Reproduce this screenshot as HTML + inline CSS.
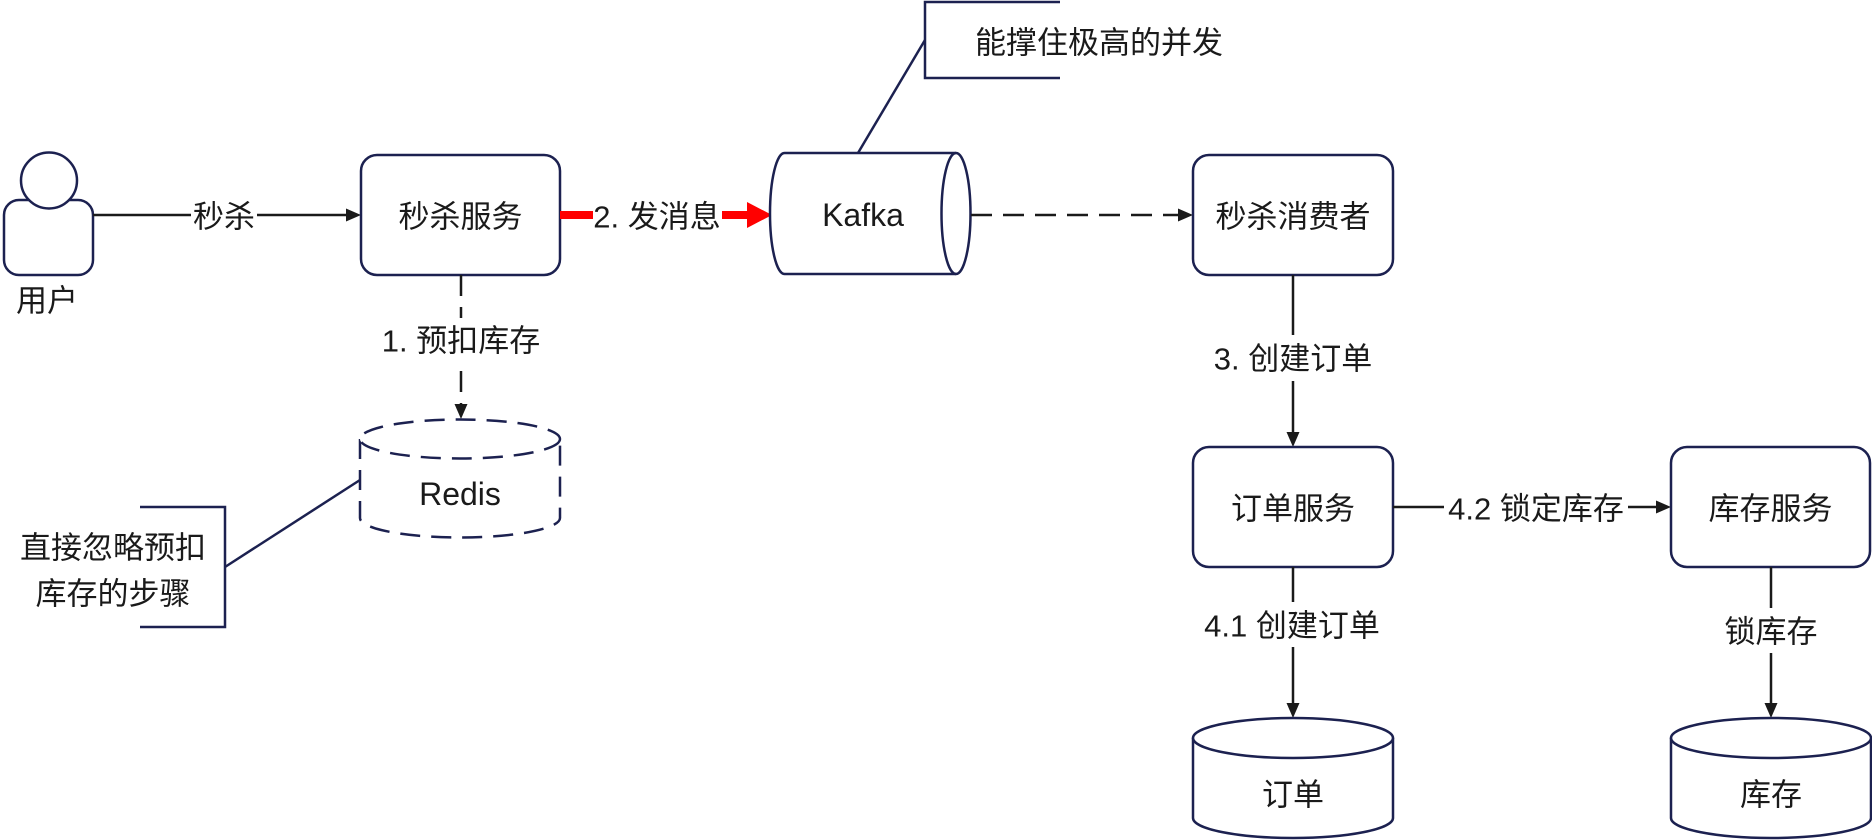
<!DOCTYPE html>
<html>
<head>
<meta charset="utf-8">
<style>
  html, body { margin: 0; padding: 0; background: #ffffff; }
  svg { display: block; }
  text { font-family: "Liberation Sans", "Noto Sans CJK SC", sans-serif; font-size: 31px; fill: #1a1a1a; }
  text.lat { font-size: 32px; }
</style>
</head>
<body>
<svg width="1872" height="840" viewBox="0 0 1872 840" xmlns="http://www.w3.org/2000/svg">
  <rect x="0" y="0" width="1872" height="840" fill="#ffffff"/>

  <!-- User icon -->
  <rect x="4" y="200" width="89" height="75" rx="15" ry="15" fill="#fff" stroke="#1c2150" stroke-width="2.5"/>
  <circle cx="49" cy="180.5" r="28" fill="#fff" stroke="#1c2150" stroke-width="2.5"/>
  <text x="47" y="301" text-anchor="middle" dominant-baseline="central">用户</text>

  <!-- 秒杀 edge -->
  <line x1="93" y1="215" x2="348" y2="215" stroke="#1a1a1a" stroke-width="2.5"/>
  <polygon points="361,215 346,208.5 346,221.5" fill="#1a1a1a"/>
  <rect x="191" y="198" width="66" height="36" fill="#fff"/>
  <text x="224" y="217" text-anchor="middle" dominant-baseline="central">秒杀</text>

  <!-- 秒杀服务 -->
  <rect x="361" y="155" width="199" height="120" rx="16" ry="16" fill="#fff" stroke="#1c2150" stroke-width="2.5"/>
  <text x="460.5" y="217" text-anchor="middle" dominant-baseline="central">秒杀服务</text>

  <!-- Red edge -->
  <rect x="560" y="211" width="33" height="8" fill="#ff0000"/>
  <text x="657" y="217" text-anchor="middle" dominant-baseline="central">2. 发消息</text>
  <rect x="722" y="211" width="27" height="8" fill="#ff0000"/>
  <polygon points="747,202 772,215 747,228" fill="#ff0000"/>

  <!-- Kafka horizontal cylinder -->
  <path d="M784.5 153 L956 153 A14.5 60.5 0 0 1 956 274 L784.5 274 A14.5 60.5 0 0 1 784.5 153 Z" fill="#fff" stroke="#1c2150" stroke-width="2.5"/>
  <path d="M956 153 A14.5 60.5 0 0 0 956 274" fill="none" stroke="#1c2150" stroke-width="2.5"/>
  <text class="lat" x="863" y="215" text-anchor="middle" dominant-baseline="central">Kafka</text>

  <!-- Top callout -->
  <line x1="858" y1="153" x2="925" y2="40" stroke="#1c2150" stroke-width="2.5"/>
  <path d="M1060 2 L925 2 L925 78 L1060 78" fill="none" stroke="#1c2150" stroke-width="2.5"/>
  <text x="975" y="43" dominant-baseline="central">能撑住极高的并发</text>

  <!-- Dashed Kafka -> consumer -->
  <line x1="971" y1="215" x2="1180" y2="215" stroke="#1a1a1a" stroke-width="2.5" stroke-dasharray="21 11"/>
  <polygon points="1193,215 1178,208.5 1178,221.5" fill="#1a1a1a"/>

  <!-- 秒杀消费者 -->
  <rect x="1193" y="155" width="200" height="120" rx="16" ry="16" fill="#fff" stroke="#1c2150" stroke-width="2.5"/>
  <text x="1293" y="217" text-anchor="middle" dominant-baseline="central">秒杀消费者</text>

  <!-- 3. 创建订单 -->
  <line x1="1293" y1="275" x2="1293" y2="434" stroke="#1a1a1a" stroke-width="2.5"/>
  <polygon points="1293,447 1286.5,432 1299.5,432" fill="#1a1a1a"/>
  <rect x="1208" y="335" width="170" height="46" fill="#fff"/>
  <text x="1293" y="359" text-anchor="middle" dominant-baseline="central">3. 创建订单</text>

  <!-- 订单服务 -->
  <rect x="1193" y="447" width="200" height="120" rx="16" ry="16" fill="#fff" stroke="#1c2150" stroke-width="2.5"/>
  <text x="1293" y="509" text-anchor="middle" dominant-baseline="central">订单服务</text>

  <!-- 4.2 锁定库存 -->
  <line x1="1393" y1="507" x2="1658" y2="507" stroke="#1a1a1a" stroke-width="2.5"/>
  <polygon points="1671,507 1656,500.5 1656,513.5" fill="#1a1a1a"/>
  <rect x="1444" y="488" width="184" height="40" fill="#fff"/>
  <text x="1536" y="509" text-anchor="middle" dominant-baseline="central">4.2 锁定库存</text>

  <!-- 库存服务 -->
  <rect x="1671" y="447" width="199" height="120" rx="16" ry="16" fill="#fff" stroke="#1c2150" stroke-width="2.5"/>
  <text x="1770.5" y="509" text-anchor="middle" dominant-baseline="central">库存服务</text>

  <!-- 4.1 创建订单 -->
  <line x1="1293" y1="567" x2="1293" y2="705" stroke="#1a1a1a" stroke-width="2.5"/>
  <polygon points="1293,718 1286.5,703 1299.5,703" fill="#1a1a1a"/>
  <rect x="1201" y="602" width="184" height="45" fill="#fff"/>
  <text x="1292" y="626" text-anchor="middle" dominant-baseline="central">4.1 创建订单</text>

  <!-- 锁库存 -->
  <line x1="1771" y1="567" x2="1771" y2="705" stroke="#1a1a1a" stroke-width="2.5"/>
  <polygon points="1771,718 1764.5,703 1777.5,703" fill="#1a1a1a"/>
  <rect x="1718" y="608" width="106" height="45" fill="#fff"/>
  <text x="1771" y="632" text-anchor="middle" dominant-baseline="central">锁库存</text>

  <!-- 订单 cylinder -->
  <path d="M1193 738 L1193 818 A100 20 0 0 0 1393 818 L1393 738" fill="#fff" stroke="#1c2150" stroke-width="2.5"/>
  <ellipse cx="1293" cy="738" rx="100" ry="20" fill="#fff" stroke="#1c2150" stroke-width="2.5"/>
  <text x="1293" y="795" text-anchor="middle" dominant-baseline="central">订单</text>

  <!-- 库存 cylinder -->
  <path d="M1671 738 L1671 818 A100 20 0 0 0 1871 818 L1871 738" fill="#fff" stroke="#1c2150" stroke-width="2.5"/>
  <ellipse cx="1771" cy="738" rx="100" ry="20" fill="#fff" stroke="#1c2150" stroke-width="2.5"/>
  <text x="1771" y="795" text-anchor="middle" dominant-baseline="central">库存</text>

  <!-- 1. 预扣库存 dashed -->
  <line x1="461" y1="275" x2="461" y2="406" stroke="#1a1a1a" stroke-width="2.5" stroke-dasharray="21 11"/>
  <polygon points="461,419 454.5,404 467.5,404" fill="#1a1a1a"/>
  <rect x="376" y="318" width="170" height="46" fill="#fff"/>
  <text x="461" y="341" text-anchor="middle" dominant-baseline="central">1. 预扣库存</text>

  <!-- Redis dashed cylinder -->
  <path d="M360 439 L360 518 A100 19.5 0 0 0 560 518 L560 439" fill="#fff" stroke="#1c2150" stroke-width="2.5" stroke-dasharray="20 11"/>
  <ellipse cx="460" cy="439" rx="100" ry="19.5" fill="#fff" stroke="#1c2150" stroke-width="2.5" stroke-dasharray="20 11"/>
  <text class="lat" x="460" y="494" text-anchor="middle" dominant-baseline="central">Redis</text>

  <!-- Bottom-left callout -->
  <line x1="225" y1="567" x2="360" y2="480" stroke="#1c2150" stroke-width="2.5"/>
  <path d="M140 507 L225 507 L225 627 L140 627" fill="none" stroke="#1c2150" stroke-width="2.5"/>
  <text x="113" y="548" text-anchor="middle" dominant-baseline="central">直接忽略预扣</text>
  <text x="113" y="594" text-anchor="middle" dominant-baseline="central">库存的步骤</text>
</svg>
</body>
</html>
